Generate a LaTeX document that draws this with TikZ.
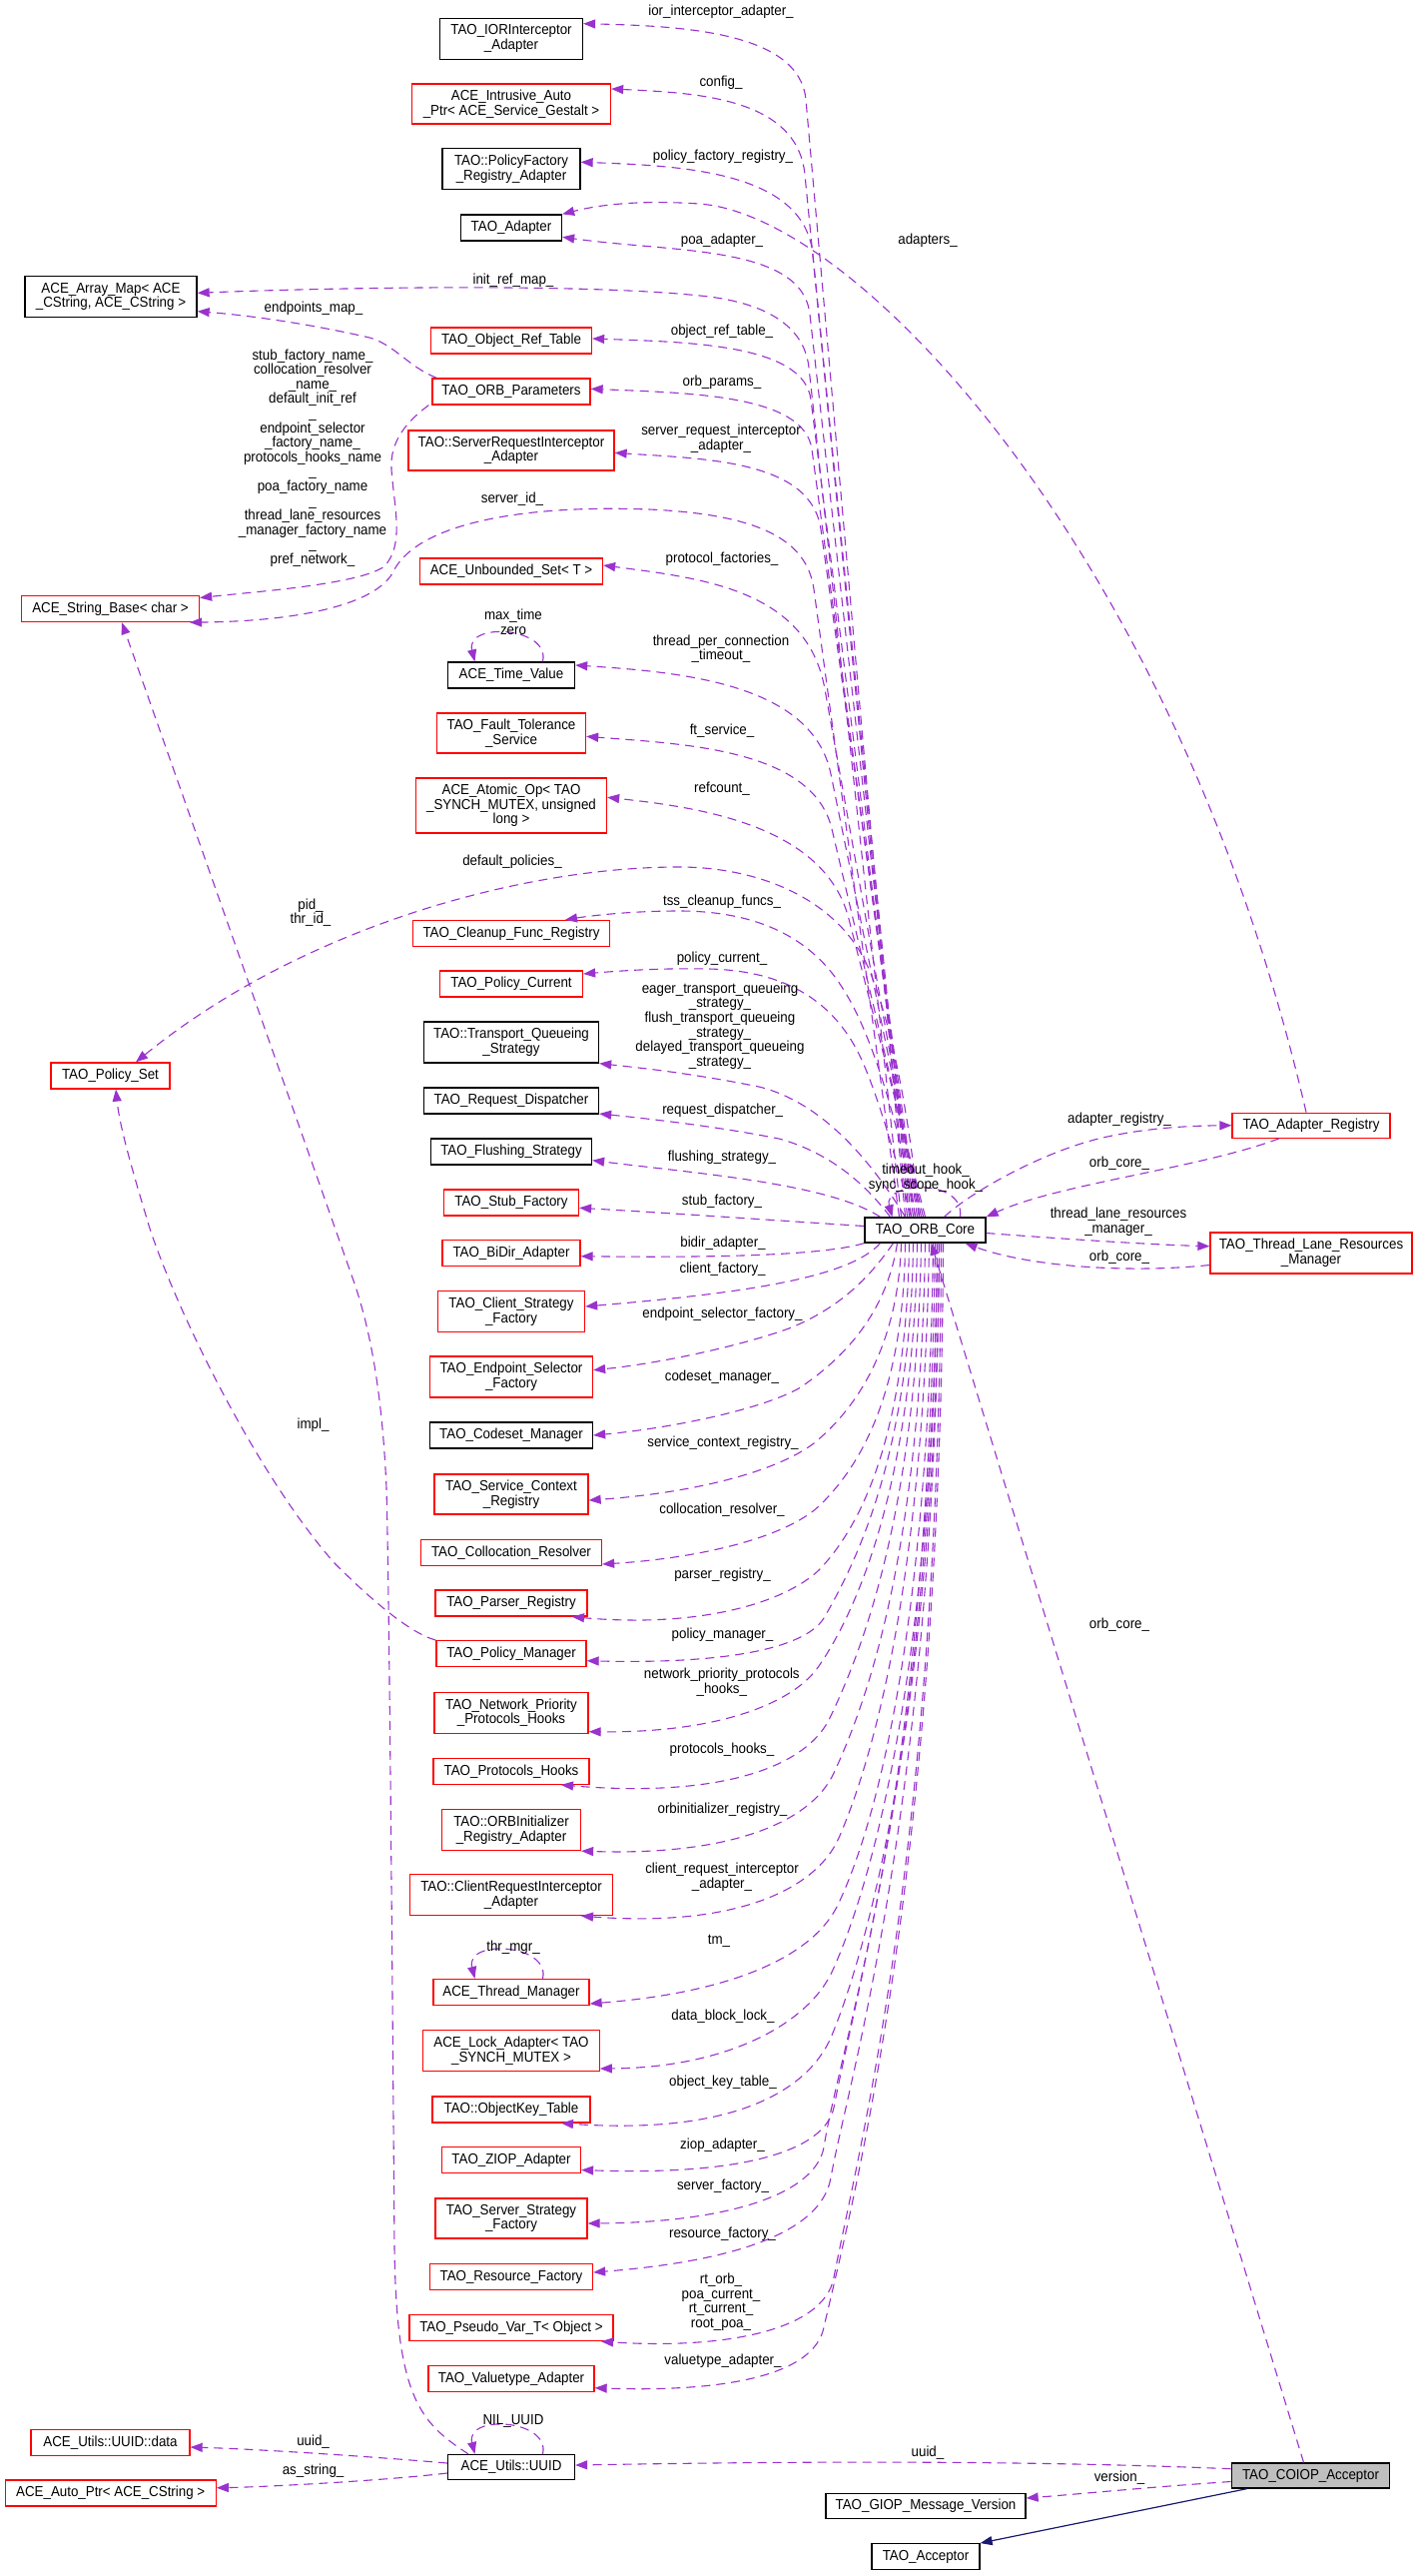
\documentclass[tikz,border=0pt]{standalone}
\usepackage{fontspec}
\setmainfont{Liberation Sans}[FakeStretch=0.92]
\usetikzlibrary{arrows.meta}
\definecolor{edgec}{HTML}{9A32CD}
\definecolor{inhc}{HTML}{191970}
\definecolor{nodered}{HTML}{FF0000}
\definecolor{grayfill}{HTML}{BFBFBF}
\newcommand\dxfont{\fontsize{14.5}{14.6}\selectfont}
\begin{document}
\begin{tikzpicture}[x=1pt,y=-1pt,
 box/.style={draw=black, line width=1.3pt, inner sep=0pt, align=center, font=\dxfont, minimum height=26pt},
 rbox/.style={box, draw=nodered},
 lab/.style={font=\dxfont, align=center, inner sep=0pt},
 rel/.style={draw=edgec, line width=1.1pt, dash pattern=on 9pt off 6pt, -{Triangle[length=12pt,width=9pt]}},
 inh/.style={draw=inhc, line width=1.2pt, -{Triangle[length=12pt,width=9pt]}}]
\fill[white] (0,0) rectangle (1419,2579);
\useasboundingbox (0,0) rectangle (1419,2579);

% ---------- nodes ----------
\node[box, minimum width=121pt, minimum height=25pt] (core) at (926.5,1231.5) {TAO\_ORB\_Core};
\node[box, minimum width=143pt, minimum height=41pt] (ior) at (512,38.7) {TAO\_IORInterceptor\\\_Adapter};
\node[rbox, minimum width=199pt, minimum height=40pt] (intr) at (512,104) {ACE\_Intrusive\_Auto\\\_Ptr< ACE\_Service\_Gestalt >};
\node[box, minimum width=138pt, minimum height=41pt] (pfr) at (512,169) {TAO::PolicyFactory\\\_Registry\_Adapter};
\node[box, minimum width=101pt] (tadp) at (512,228) {TAO\_Adapter};
\node[box, minimum width=172pt, minimum height=41pt] (am) at (111,297) {ACE\_Array\_Map< ACE\\\_CString, ACE\_CString >};
\node[rbox, minimum width=161pt] (ort) at (512,341) {TAO\_Object\_Ref\_Table};
\node[rbox, minimum width=158pt] (orbp) at (512,392) {TAO\_ORB\_Parameters};
\node[rbox, minimum width=206pt, minimum height=40pt] (sria) at (512,451) {TAO::ServerRequestInterceptor\\\_Adapter};
\node[rbox, minimum width=183pt] (us) at (512,572) {ACE\_Unbounded\_Set< T >};
\node[rbox, minimum width=178pt] (sb) at (110.5,609.5) {ACE\_String\_Base< char >};
\node[box, minimum width=127pt] (tv) at (512,676) {ACE\_Time\_Value};
\node[rbox, minimum width=149pt, minimum height=40pt] (fts) at (512,734) {TAO\_Fault\_Tolerance\\\_Service};
\node[rbox, minimum width=191pt, minimum height=55pt] (ao) at (512,806.5) {ACE\_Atomic\_Op< TAO\\\_SYNCH\_MUTEX, unsigned\\long >};
\node[rbox, minimum width=197pt] (cfr) at (512,934.5) {TAO\_Cleanup\_Func\_Registry};
\node[rbox, minimum width=143pt] (pc) at (512,985) {TAO\_Policy\_Current};
\node[box, minimum width=175pt, minimum height=41pt] (tqs) at (512,1043.5) {TAO::Transport\_Queueing\\\_Strategy};
\node[rbox, minimum width=119pt] (ps) at (110.5,1077) {TAO\_Policy\_Set};
\node[box, minimum width=175pt] (rd) at (512,1102) {TAO\_Request\_Dispatcher};
\node[box, minimum width=161pt] (fs) at (512,1153) {TAO\_Flushing\_Strategy};
\node[rbox, minimum width=135pt] (sf) at (512,1204) {TAO\_Stub\_Factory};
\node[rbox, minimum width=138pt] (bd) at (512,1254.5) {TAO\_BiDir\_Adapter};
\node[rbox, minimum width=147pt, minimum height=41pt] (csf) at (512,1313) {TAO\_Client\_Strategy\\\_Factory};
\node[rbox, minimum width=163pt, minimum height=41pt] (esf) at (512,1378.5) {TAO\_Endpoint\_Selector\\\_Factory};
\node[box, minimum width=163pt] (cm) at (512,1437) {TAO\_Codeset\_Manager};
\node[rbox, minimum width=154pt, minimum height=40pt] (scr) at (512,1496) {TAO\_Service\_Context\\\_Registry};
\node[rbox, minimum width=181pt] (cr) at (512,1554.5) {TAO\_Collocation\_Resolver};
\node[rbox, minimum width=152pt] (pr) at (512,1605) {TAO\_Parser\_Registry};
\node[rbox, minimum width=150pt] (pm) at (512,1655.7) {TAO\_Policy\_Manager};
\node[rbox, minimum width=154pt, minimum height=41pt] (npph) at (512,1714.7) {TAO\_Network\_Priority\\\_Protocols\_Hooks};
\node[rbox, minimum width=156pt] (phk) at (512,1773.3) {TAO\_Protocols\_Hooks};
\node[rbox, minimum width=139pt, minimum height=41pt] (orbi) at (512,1832) {TAO::ORBInitializer\\\_Registry\_Adapter};
\node[rbox, minimum width=203pt, minimum height=41pt] (cri) at (512,1897) {TAO::ClientRequestInterceptor\\\_Adapter};
\node[rbox, minimum width=156pt] (tm) at (512,1994.5) {ACE\_Thread\_Manager};
\node[rbox, minimum width=176.5pt, minimum height=41pt] (la) at (512,2053) {ACE\_Lock\_Adapter< TAO\\\_SYNCH\_MUTEX >};
\node[rbox, minimum width=158pt] (okt) at (512,2112) {TAO::ObjectKey\_Table};
\node[rbox, minimum width=139pt] (zi) at (512,2162.5) {TAO\_ZIOP\_Adapter};
\node[rbox, minimum width=152pt, minimum height=40pt] (ssf) at (512,2221) {TAO\_Server\_Strategy\\\_Factory};
\node[rbox, minimum width=163pt] (rf) at (512,2279.7) {TAO\_Resource\_Factory};
\node[rbox, minimum width=204pt] (pv) at (512,2330.5) {TAO\_Pseudo\_Var\_T< Object >};
\node[rbox, minimum width=166pt] (vt) at (512,2381.7) {TAO\_Valuetype\_Adapter};
\node[box, minimum width=127pt, minimum height=25pt] (uuid) at (512,2470) {ACE\_Utils::UUID};
\node[rbox, minimum width=159pt] (data) at (110.5,2445.5) {ACE\_Utils::UUID::data};
\node[rbox, minimum width=211pt] (ap) at (110.7,2496) {ACE\_Auto\_Ptr< ACE\_CString >};
\node[rbox, minimum width=158pt, minimum height=25pt] (ar) at (1313,1126.7) {TAO\_Adapter\_Registry};
\node[rbox, minimum width=202pt, minimum height=41pt] (tlrm) at (1313,1254.5) {TAO\_Thread\_Lane\_Resources\\\_Manager};
\node[box, fill=grayfill, minimum width=158.5pt, minimum height=25pt] (coiop) at (1312.5,2478.5) {TAO\_COIOP\_Acceptor};
\node[box, minimum width=200pt, minimum height=25pt] (gmv) at (927,2509) {TAO\_GIOP\_Message\_Version};
\node[box, minimum width=108pt] (acc) at (927,2559.7) {TAO\_Acceptor};

% ---------- upper edges from TAO_ORB_Core ----------
\draw[rel] ([xshift=-20pt]core.north) -- (807,100) .. controls (801,32) and (684,26) .. ([yshift=15pt]ior.east);
\draw[rel] ([xshift=-18pt]core.north) -- (806,175) .. controls (798.5,98) and (699,93) .. ([yshift=15pt]intr.east);
\draw[rel] ([xshift=-16pt]core.north) -- (814,255) .. controls (805.7,172) and (685.6,166) .. ([yshift=6.7pt]pfr.east);
\draw[rel] ([xshift=-14pt]core.north) -- (811,315) .. controls (803.6,245) and (674.5,253) .. ([yshift=-9.3pt]tadp.east);
\draw[rel] ([xshift=-24pt]core.north) -- (810,368) .. controls (805.3,325) and (765,304) .. (710,297) .. controls (590,283) and (330,288) .. ([yshift=3.7pt]am.east);
\draw[rel] ([xshift=-12pt]core.north) -- (812,400) .. controls (805,345) and (692,342.5) .. ([yshift=2pt]ort.east);
\draw[rel] ([xshift=-10pt]core.north) -- (813,450) .. controls (805.6,395) and (691,393.5) .. ([yshift=2.7pt]orbp.east);
\draw[rel] ([xshift=-8pt]core.north) -- (822,530) .. controls (812.3,461) and (708,459.5) .. ([yshift=-2.3pt]sria.east);
\draw[rel] ([xshift=-26pt]core.north) -- (815,590) .. controls (808,540) and (760,515) .. (650,510) .. controls (520,505) and (420,525) .. (395,570) .. controls (380,605) and (300,622) .. ([xshift=79.5pt]sb.south);
\draw[rel] ([xshift=-6pt]core.north) -- (826,690) .. controls (808,590) and (703,579) .. ([yshift=6pt]us.east);
\draw[rel] ([xshift=-4pt]core.north) -- (832,775) .. controls (813.6,685) and (685,673) .. ([yshift=10pt]tv.east);
\draw[rel] ([xshift=-2pt]core.north) -- (833,830) .. controls (814,750) and (686.5,745) .. ([yshift=-3.3pt]fts.east);
\draw[rel] (core.north) -- (850,920) .. controls (825.7,825) and (697,808) .. ([yshift=8.2pt]ao.east);
\draw[rel] ([xshift=-6pt]core.north) .. controls (912,1130) and (895,1030) .. (870,970) .. controls (840,900) and (760,868) .. (680,868) .. controls (520,868) and (300,930) .. ([xshift=25.5pt]ps.north);
\draw[rel] ([xshift=-10pt]core.north) .. controls (900,1120) and (870,1030) .. (846,993) .. controls (815,940) and (760,912) .. (680,912) .. controls (630,912) and (590,917) .. ([xshift=54pt]cfr.north);
\draw[rel] ([xshift=-14pt]core.north) .. controls (895,1150) and (875,1085) .. (860,1055) .. controls (835,1005) and (790,972) .. (710,970) .. controls (660,969) and (620,972) .. ([yshift=10pt]pc.east);
\draw[rel] ([xshift=-20pt]core.north) .. controls (880,1175) and (830,1105) .. (760,1088) .. controls (690,1074) and (640,1069) .. (tqs.south east);
\draw[rel] ([xshift=-35pt]core.north) .. controls (870,1190) and (835,1155) .. (780,1140) .. controls (720,1128) and (650,1120) .. ([yshift=-13pt]rd.east);
\draw[rel] ([xshift=-45pt]core.north) .. controls (830,1185) and (700,1175) .. ([yshift=-8.7pt]fs.east);
\draw[rel] ([yshift=4pt]core.west) .. controls (780,1222) and (680,1215) .. ([yshift=-5.3pt]sf.east);

% ---------- lower edges from TAO_ORB_Core ----------
\draw[rel] (core.south west) .. controls (820,1258) and (700,1259) .. ([yshift=-3.2pt]bd.east);
\draw[rel] ([xshift=-45pt]core.south) .. controls (850,1280) and (740,1295) .. ([yshift=5pt]csf.east);
\draw[rel] ([xshift=-32pt]core.south) .. controls (870,1280) and (840,1310) .. (790,1330) .. controls (740,1348) and (660,1365) .. ([yshift=6.8pt]esf.east);
\draw[rel] ([xshift=-28pt]core.south) .. controls (890,1300) and (860,1350) .. (800,1390) .. controls (760,1412) and (670,1430) .. (cm.east);
\draw[rel] ([xshift=-24pt]core.south) .. controls (900,1330) and (870,1400) .. (815,1445) .. controls (775,1475) and (690,1495) .. ([yshift=-6pt]scr.east);
\draw[rel] ([xshift=-20pt]core.south) .. controls (905,1380) and (870,1460) .. (820,1508) .. controls (785,1540) and (700,1560) .. ([yshift=-11.5pt]cr.east);
\draw[rel] ([xshift=-16pt]core.south) .. controls (908,1420) and (870,1520) .. (820,1572) .. controls (785,1605) and (700,1630) .. ([xshift=61pt]pr.south);
\draw[rel] ([xshift=-12pt]core.south) .. controls (912,1450) and (860,1560) .. (825,1620) .. controls (805,1652) and (720,1666) .. ([yshift=-7pt]pm.east);
\draw[rel] ([xshift=-8pt]core.south) .. controls (915,1480) and (860,1610) .. (820,1668) .. controls (795,1705) and (720,1735) .. ([yshift=-19pt]npph.east);
\draw[rel] ([xshift=-4pt]core.south) .. controls (918,1520) and (860,1660) .. (830,1722) .. controls (805,1770) and (720,1800) .. ([xshift=50pt]phk.south);
\draw[rel] (core.south) .. controls (922,1550) and (870,1700) .. (835,1775) .. controls (812,1825) and (730,1858) .. (orbi.south east);
\draw[rel] ([xshift=4pt]core.south) .. controls (925,1580) and (875,1760) .. (840,1840) .. controls (818,1890) and (740,1930) .. ([xshift=70pt]cri.south);
\draw[rel] ([xshift=8pt]core.south) .. controls (930,1620) and (880,1820) .. (840,1905) .. controls (815,1960) and (730,1995) .. ([yshift=-11.5pt]tm.east);
\draw[rel] ([xshift=12pt]core.south) .. controls (935,1660) and (875,1880) .. (835,1970) .. controls (812,2025) and (730,2070) .. ([yshift=-18pt]la.east);
\draw[rel] ([xshift=14pt]core.south) .. controls (937,1700) and (870,1950) .. (832,2040) .. controls (810,2090) and (740,2138) .. ([xshift=50pt]okt.south);
\draw[rel] ([xshift=10pt]core.south) .. controls (930,1750) and (860,1980) .. (835,2110) .. controls (825,2155) and (740,2178) .. ([yshift=-10pt]zi.east);
\draw[rel] ([xshift=12pt]core.south) .. controls (935,1780) and (840,2050) .. (825,2150) .. controls (815,2200) and (720,2225) .. ([yshift=-5pt]ssf.east);
\draw[rel] ([xshift=14pt]core.south) .. controls (937,1800) and (850,2080) .. (832,2180) .. controls (822,2240) and (720,2265) .. ([yshift=4.7pt]rf.east);
\draw[rel] ([xshift=16pt]core.south) .. controls (940,1850) and (860,2150) .. (835,2280) .. controls (825,2335) and (720,2352) .. ([xshift=90pt]pv.south);
\draw[rel] ([xshift=18pt]core.south) .. controls (942,1880) and (850,2220) .. (825,2330) .. controls (815,2380) and (720,2395) .. ([yshift=-9pt]vt.east);

% ---------- right side ----------
\draw[rel] ([xshift=19pt]core.north) .. controls (970,1195) and (1040,1155) .. (1100,1140) .. controls (1150,1128) and (1200,1127) .. (ar.west);
\draw[rel] ([xshift=-32pt]ar.south) .. controls (1200,1170) and (1060,1185) .. (core.north east);
\draw[rel] ([xshift=-5pt]ar.north) .. controls (1180,560) and (860,215) .. (700,204) .. controls (640,200) and (600,205) .. (tadp.north east);
\draw[rel] ([yshift=-3pt]core.east) .. controls (1060,1240) and (1150,1246) .. ([yshift=6.8pt]tlrm.west);
\draw[rel] ([yshift=-12pt]tlrm.west) .. controls (1130,1275) and (1030,1268) .. ([xshift=40pt]core.south);
\draw[rel] ([xshift=-7pt]coiop.north) -- ([xshift=6pt]core.south);
\draw[rel] ([yshift=6.8pt]coiop.west) .. controls (1000,2462) and (750,2465) .. ([yshift=2pt]uuid.east);
\draw[rel] ([yshift=-6pt]coiop.west) .. controls (1150,2490) and (1080,2497) .. ([yshift=8pt]gmv.east);
\draw[inh] ([xshift=16pt]coiop.south west) -- (acc.north east);

% ---------- left side ----------
\draw[rel] ([yshift=4pt]uuid.west) .. controls (380,2460) and (260,2452) .. ([yshift=-4.5pt]data.east);
\draw[rel] ([yshift=-6pt]uuid.west) .. controls (380,2484) and (260,2490) .. ([yshift=5.3pt]ap.east);
\draw[rel] ([xshift=-43pt]uuid.north) .. controls (420,2425) and (397,2400) .. (395,2250) .. controls (393,2000) and (390,1600) .. (387,1490) .. controls (383,1400) and (372,1335) .. (355,1285) -- ([xshift=11.5pt]sb.south);
\draw[rel] (pm.north west) .. controls (410,1635) and (370,1600) .. (335,1565) .. controls (260,1480) and (180,1320) .. (150,1230) .. controls (135,1180) and (120,1130) .. ([xshift=5.5pt]ps.south);
\draw[rel] ([xshift=5pt]orbp.north west) .. controls (410,368) and (395,345) .. (370,338) .. controls (300,322) and (240,315) .. ([yshift=-14.7pt]am.east);
\draw[rel] ([xshift=-3pt]orbp.south west) .. controls (410,420) and (390,440) .. (392,470) .. controls (395,510) and (405,545) .. (385,567) .. controls (360,585) and (260,592) .. ([yshift=11pt]sb.east);

% ---------- self loops ----------
\draw[rel] ([xshift=31.5pt]tv.north) .. controls +(8,-35) and +(-10,-40) .. ([xshift=-36.5pt]tv.north);
\draw[rel] ([xshift=31.5pt]tm.north) .. controls +(8,-35) and +(-10,-40) .. ([xshift=-36.5pt]tm.north);
\draw[rel] ([xshift=31.5pt]uuid.north) .. controls +(8,-35) and +(-10,-40) .. ([xshift=-36.5pt]uuid.north);
\draw[rel] ([xshift=35pt]core.north) .. controls +(5,-40) and +(-10,-35) .. ([xshift=-33pt]core.north);

% ---------- labels ----------
\node[lab] (l01) at (722,12) {ior\_interceptor\_adapter\_};
\node[lab] (l02) at (722,83) {config\_};
\node[lab] (l03) at (724,157) {policy\_factory\_registry\_};
\node[lab] (l04) at (723,241) {poa\_adapter\_};
\node[lab] (l05) at (929,241) {adapters\_};
\node[lab] (l06) at (514,281) {init\_ref\_map\_};
\node[lab] (l07) at (314,309) {endpoints\_map\_};
\node[lab] (l08) at (723,332) {object\_ref\_table\_};
\node[lab] (l09) at (723,383) {orb\_params\_};
\node[lab] (l10) at (313,458.5) {stub\_factory\_name\_\\collocation\_resolver\\\_name\_\\default\_init\_ref\\\_\\endpoint\_selector\\\_factory\_name\_\\protocols\_hooks\_name\\\_\\poa\_factory\_name\\\_\\thread\_lane\_resources\\\_manager\_factory\_name\\\_\\pref\_network\_};
\node[lab] (l11) at (722,439.5) {server\_request\_interceptor\\\_adapter\_};
\node[lab] (l12) at (513,500) {server\_id\_};
\node[lab] (l13) at (723,560) {protocol\_factories\_};
\node[lab] (l14) at (514,623) {max\_time\\zero};
\node[lab] (l15) at (722,649.5) {thread\_per\_connection\\\_timeout\_};
\node[lab] (l16) at (723,732) {ft\_service\_};
\node[lab] (l17) at (723,790) {refcount\_};
\node[lab] (l18) at (513,863) {default\_policies\_};
\node[lab] (l19) at (311,913.7) {pid\_\\thr\_id\_};
\node[lab] (l20) at (723,903) {tss\_cleanup\_funcs\_};
\node[lab] (l21) at (723,960) {policy\_current\_};
\node[lab] (l22) at (721,1027) {eager\_transport\_queueing\\\_strategy\_\\flush\_transport\_queueing\\\_strategy\_\\delayed\_transport\_queueing\\\_strategy\_};
\node[lab] (l23) at (723.7,1111.7) {request\_dispatcher\_};
\node[lab] (l24) at (723,1159) {flushing\_strategy\_};
\node[lab] (l25) at (927,1179) {timeout\_hook\_\\sync\_scope\_hook\_};
\node[lab] (l26) at (723,1203) {stub\_factory\_};
\node[lab] (l27) at (1121,1121) {adapter\_registry\_};
\node[lab] (l28) at (1121,1165) {orb\_core\_};
\node[lab] (l29) at (1120,1223) {thread\_lane\_resources\\\_manager\_};
\node[lab] (l30) at (724,1245) {bidir\_adapter\_};
\node[lab] (l31) at (1121,1259) {orb\_core\_};
\node[lab] (l32) at (723.6,1271) {client\_factory\_};
\node[lab] (l33) at (723.5,1315.7) {endpoint\_selector\_factory\_};
\node[lab] (l34) at (723,1379) {codeset\_manager\_};
\node[lab] (l35) at (313.6,1426.7) {impl\_};
\node[lab] (l36) at (724,1445) {service\_context\_registry\_};
\node[lab] (l37) at (723,1511.7) {collocation\_resolver\_};
\node[lab] (l38) at (723.5,1576.7) {parser\_registry\_};
\node[lab] (l39) at (1121,1626.7) {orb\_core\_};
\node[lab] (l40) at (723.5,1636.7) {policy\_manager\_};
\node[lab] (l41) at (722.8,1684.2) {network\_priority\_protocols\\\_hooks\_};
\node[lab] (l42) at (723,1751.7) {protocols\_hooks\_};
\node[lab] (l43) at (723.5,1811.7) {orbinitializer\_registry\_};
\node[lab] (l44) at (723,1879.2) {client\_request\_interceptor\\\_adapter\_};
\node[lab] (l45) at (720,1943) {tm\_};
\node[lab] (l46) at (514,1949.3) {thr\_mgr\_};
\node[lab] (l47) at (724,2019) {data\_block\_lock\_};
\node[lab] (l48) at (724,2084.3) {object\_key\_table\_};
\node[lab] (l49) at (723.5,2147.5) {ziop\_adapter\_};
\node[lab] (l50) at (724,2189) {server\_factory\_};
\node[lab] (l51) at (723.5,2236.7) {resource\_factory\_};
\node[lab] (l52) at (722,2304.7) {rt\_orb\_\\poa\_current\_\\rt\_current\_\\root\_poa\_};
\node[lab] (l53) at (724,2363.3) {valuetype\_adapter\_};
\node[lab] (l54) at (514,2424.3) {NIL\_UUID};
\node[lab] (l55) at (313.6,2445) {uuid\_};
\node[lab] (l56) at (313.6,2473.3) {as\_string\_};
\node[lab] (l57) at (929,2455.7) {uuid\_};
\node[lab] (l58) at (1121,2481) {version\_};
\end{tikzpicture}
\end{document}
